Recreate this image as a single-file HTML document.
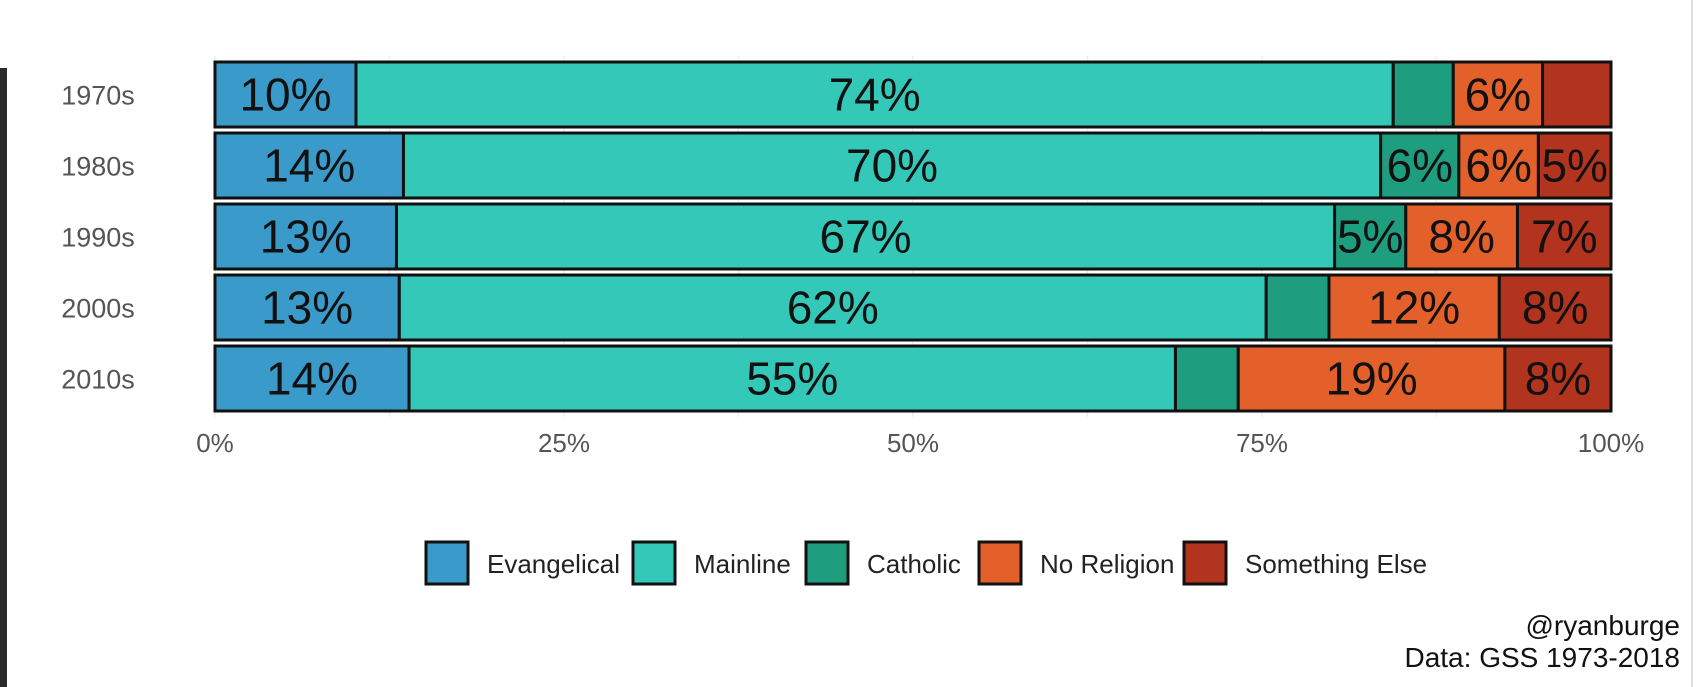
<!DOCTYPE html>
<html><head><meta charset="utf-8"><style>
html,body{margin:0;padding:0;background:#fff;width:1696px;height:687px;overflow:hidden}
svg text{font-family:"Liberation Sans Narrow","Liberation Sans",sans-serif;font-stretch:condensed}
</style></head><body>
<svg id="chart" width="1696" height="687" viewBox="0 0 1696 687" xmlns="http://www.w3.org/2000/svg">
<rect x="0" y="0" width="1696" height="687" fill="#fff"/>
<rect x="0" y="68" width="7" height="619" fill="#2a2a2a"/>
<rect x="1691" y="0" width="2" height="687" fill="#ddd"/>
<g id="grid"></g>
<g id="bars"></g>
<g id="ylabels"></g>
<g id="xlabels"></g>
<g id="legend"></g>
<text x="1680" y="635" text-anchor="end" font-size="28" fill="#111">@ryanburge</text>
<text x="1680" y="667" text-anchor="end" font-size="28" fill="#111">Data: GSS 1973-2018</text>
</svg>
<script>
const decades = ["1970s","1980s","1990s","2000s","2010s"];
const seriesNames = ["Evangelical","Mainline","Catholic","No Religion","Something Else"];
const evangelical = [10.1,13.5,13.0,13.2,13.9];
const mainline = [74.3,70.0,67.2,62.1,54.9];
const catholic = [4.3,5.6,5.1,4.5,4.5];
const noReligion = [6.4,5.7,8.0,12.2,19.1];
const somethingElse = [4.9,5.2,6.7,8.0,7.6];
const xTicks = [0,25,50,75,100];
const xTickLabels = ["0%","25%","50%","75%","100%"];
const colors = ["#3a9bcb","#33c8b8","#1e9e7e","#e3602a","#b3341e"];
const series = [evangelical,mainline,catholic,noReligion,somethingElse];
const NS="http://www.w3.org/2000/svg";
const X0=215,X1=1611,Y0=62,STEP=71,BH=65;
const xs=v=>X0+(X1-X0)*v/100;
const yb=i=>Y0+i*STEP;
function mk(tag,attrs,parent){const e=document.createElementNS(NS,tag);for(const k in attrs)e.setAttribute(k,attrs[k]);parent.appendChild(e);return e;}
const grid=document.getElementById('grid');
for(let t=0;t<=100;t+=12.5){
  const l=mk('line',{x1:xs(t),x2:xs(t),y1:Y0-6,y2:yb(4)+BH+6,stroke:'#eee','stroke-width':1.5},grid);
  
  
}
const bars=document.getElementById('bars');
decades.forEach((d,i)=>{
  let cum=0;
  series.forEach((s,j)=>{
    const v=s[i];
    const r=mk('rect',{x:xs(cum),y:yb(i),width:xs(cum+v)-xs(cum),height:BH,fill:colors[j],stroke:'#111','stroke-width':3},bars);
    
    
    if(v>=5){
      const t=mk('text',{x:(xs(cum)+xs(cum+v))/2,y:yb(i)+BH/2+16,'text-anchor':'middle','font-size':46,fill:'#111'},bars);
      t.textContent=Math.round(v)+'%';
      
      
    }
    cum+=v;
  });
});
const yl=document.getElementById('ylabels');
decades.forEach((d,i)=>{
  const t=mk('text',{x:98,y:yb(i)+BH/2+10,'text-anchor':'middle','font-size':27,fill:'#555'},yl);
  t.textContent=d;
  
  
});
const xl=document.getElementById('xlabels');
xTicks.forEach((v,i)=>{
  const t=mk('text',{x:xs(v),y:452,'text-anchor':'middle','font-size':26,fill:'#555'},xl);
  t.textContent=xTickLabels[i];
  
  
});
const lg=document.getElementById('legend');
const keyX=[426,633,806,979,1184];
seriesNames.forEach((n,j)=>{
  const r=mk('rect',{x:keyX[j],y:542,width:42,height:42,fill:colors[j],stroke:'#111','stroke-width':3},lg);
  
  
  const t=mk('text',{x:keyX[j]+61,y:573,'font-size':26,fill:'#222'},lg);
  t.textContent=n;
  
  
});
</script>
</body></html>
